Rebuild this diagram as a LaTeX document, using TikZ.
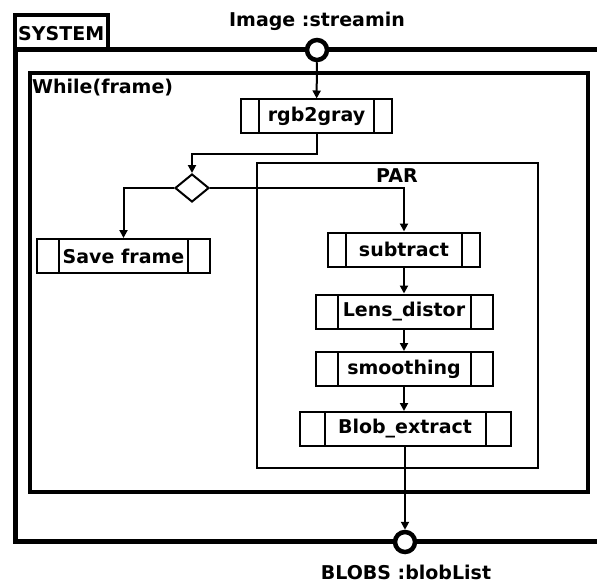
\documentclass[tikz,border=0pt]{standalone}
\usepackage{fontspec}
\setmainfont{DejaVu Sans}
\usepackage{tikz}
\usetikzlibrary{arrows.meta,shapes.geometric}

\begin{document}
\begin{tikzpicture}[x=1pt,y=-1pt,>={Triangle[length=8pt,width=8pt]},
  font=\fontsize{19}{22}\selectfont\bfseries,line join=miter,
  flow/.style={->,line width=2pt},
  subproc/.style={draw,line width=2pt,minimum height=34pt,inner sep=0pt,
    path picture={
      \draw[line width=2pt] ([xshift=#1]path picture bounding box.north west) -- ([xshift=#1]path picture bounding box.south west);
      \draw[line width=2pt] ([xshift=-#1]path picture bounding box.north east) -- ([xshift=-#1]path picture bounding box.south east);}},
  subproc/.default=20pt,
  port/.style={circle,draw,line width=4.5pt,fill=white,minimum size=20pt,inner sep=0pt},
  choice/.style={diamond,draw,line width=2pt,minimum width=34pt,minimum height=28pt,inner sep=0pt,aspect=1.2}]
\useasboundingbox (0,0) rectangle (597,583);
% frames
\draw[line width=5pt] (597,50) -- (15,50) -- (15,541) -- (597,541);
\draw[line width=4pt] (15,50) -- (15,15.5) -- (107.5,15.5) -- (107.5,50);
\node[anchor=west,inner sep=0pt] (sysname) at (18,34) {SYSTEM};
\draw[line width=3.5pt] (30,73) rectangle (588,492);
\node[anchor=north west,inner sep=0pt] (whilename) at (32,79) {While(frame)};
\draw[line width=2pt] (257,163) rectangle (538,468);
\node (parname) at (397,176) {PAR};
% ports
\node[port] (in) at (317,50) {};
\node[inner sep=0pt] (inname) at (317,21) {Image :streamin};
\node[port] (out) at (405,542) {};
\node[inner sep=0pt] (outname) at (406,572) {BLOBS :blobList};
% steps
\node[subproc=18pt,minimum width=151pt] (gray) at (316.5,116.5) {rgb2gray};
\node[choice] (dec) at (192,188) {};
\node[subproc=22pt,minimum width=173pt] (save) at (123.5,256) {Save frame};
\node[subproc=18pt,minimum width=152pt] (sub) at (404,249.5) {subtract};
\node[subproc=22pt,minimum width=177pt] (lens) at (404,311.5) {Lens\_distor};
\node[subproc=22pt,minimum width=177pt] (smooth) at (404,369) {smoothing};
\node[subproc=25pt,minimum width=211pt] (blob) at (405,429) {Blob\_extract};
% flows
\draw[flow] (in) -- (gray);
\draw[flow] (gray.south) -- ++(0,20) -| (dec.north);
\draw[flow] (dec.west) -| (save.north);
\draw[flow] (dec.east) -| (sub.north);
\draw[flow] (sub) -- (lens);
\draw[flow] (lens) -- (smooth);
\draw[flow] (smooth) -- (smooth |- blob.north);
\draw[flow] (blob) -- (out);
\end{tikzpicture}
\end{document}
